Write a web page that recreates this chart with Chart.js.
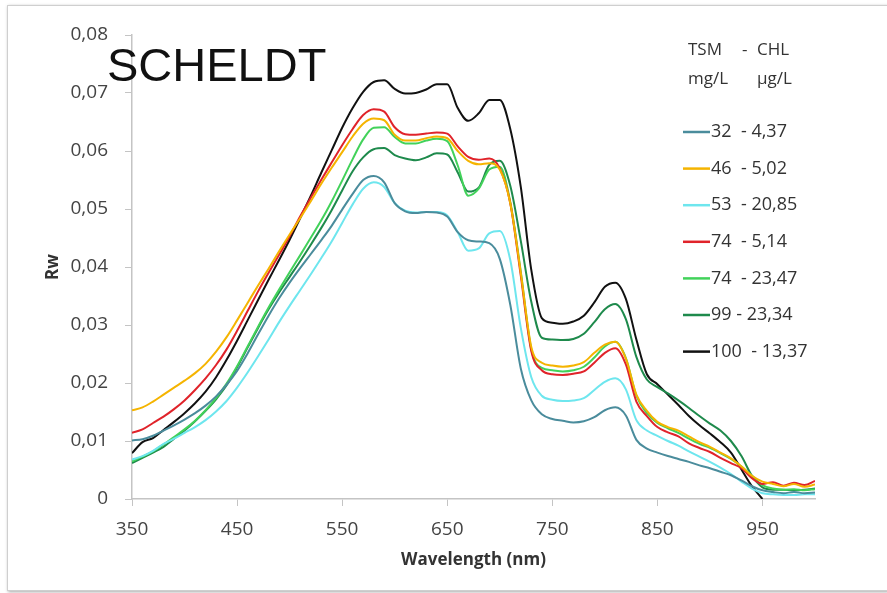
<!DOCTYPE html>
<html>
<head>
<meta charset="utf-8">
<script src="https://cdn.jsdelivr.net/npm/chart.js@4.4.1/dist/chart.umd.min.js"></script>
<style>
  html, body { margin: 0; padding: 0; background: #fff; }
  #wrap { position: relative; width: 887px; height: 593px; }
  #frame {
    position: absolute; left: 7px; top: 5px; width: 879px; height: 584px;
    border: 1px solid #cfcfcf; box-shadow: 1px 1px 3px rgba(0,0,0,0.35);
    pointer-events: none;
  }
</style>
</head>
<body>
<div id="wrap">
  <canvas id="rwChart" width="887" height="593"></canvas>
  <div id="frame"></div>
</div>
<script>
// wavelength grid (nm)
const wavelengths = [350, 360, 370, 380, 390, 400, 410, 420, 430, 440, 450, 460, 470, 480, 490, 500,
  510, 520, 530, 540, 550, 560, 570, 580, 590, 600, 610, 620, 630, 640, 650, 660, 670, 680, 690, 700,
  710, 720, 730, 740, 750, 760, 770, 780, 790, 800, 810, 820, 830, 840, 850, 860, 870, 880, 890, 900,
  910, 920, 930, 940, 950, 960, 970, 980, 990, 1000];

const xTicks = [350, 450, 550, 650, 750, 850, 950];

// TSM (mg/L) - CHL (µg/L) per sample
const sampleLabels = ['32  - 4,37', '46  - 5,02', '53  - 20,85', '74  - 5,14', '74  - 23,47', '99 - 23,34', '100  - 13,37'];

const rw32 = [.0101, .0103, .0109, .0118, .0127, .0137, .0148, .0161, .0177, .0197, .0221, .0251, .0284, .0316, .0346, .0373,
  .0398, .0422, .0446, .0471, .0499, .0526, .0550, .0557, .0546, .0510, .0496, .0493, .0495, .0494, .0487, .0460, .0446, .0444, .0441, .0414,
  .0335, .0225, .0170, .0146, .0138, .0135, .0132, .0134, .0141, .0153, .0158, .0144, .0102, .0087, .0080, .0074, .0069, .0064, .0058, .0053,
  .0047, .0041, .0032, .0022, .0015, .0012, .0010, .0012, .0010, .0011];

const rw46 = [.0153, .0158, .0168, .0180, .0192, .0204, .0217, .0233, .0254, .0279, .0308, .0338, .0368, .0397, .0427, .0456,
  .0484, .0513, .0543, .0571, .0598, .0625, .0647, .0656, .0653, .0628, .0618, .0618, .0622, .0625, .0622, .0600, .0583, .0577, .0579, .0568,
  .0510, .0390, .0262, .0235, .0230, .0228, .0230, .0236, .0252, .0266, .0271, .0242, .0180, .0152, .0133, .0124, .0118, .0108, .0098, .0090,
  .0080, .0070, .0056, .0040, .0030, .0026, .0022, .0026, .0021, .0025];

const rw53 = [.0068, .0074, .0083, .0095, .0104, .0114, .0124, .0136, .0151, .0169, .0192, .0218, .0246, .0275, .0305, .0333,
  .0360, .0387, .0415, .0444, .0476, .0508, .0535, .0546, .0538, .0510, .0497, .0494, .0495, .0495, .0489, .0460, .0428, .0432, .0458, .0462,
  .0412, .0295, .0210, .0178, .0171, .0169, .0170, .0174, .0188, .0202, .0208, .0189, .0136, .0118, .0109, .0100, .0092, .0082, .0073, .0064,
  .0054, .0043, .0030, .0018, .0010, .0008, .0007, .0007, .0008, .0008];

const rw74a = [.0114, .0120, .0131, .0142, .0155, .0170, .0188, .0208, .0231, .0258, .0290, .0324, .0358, .0390, .0421, .0453,
  .0487, .0519, .0550, .0580, .0610, .0638, .0662, .0672, .0668, .0641, .0629, .0628, .0630, .0632, .0630, .0608, .0590, .0585, .0587, .0570,
  .0510, .0385, .0255, .0222, .0215, .0214, .0216, .0220, .0235, .0252, .0260, .0232, .0168, .0143, .0124, .0115, .0108, .0096, .0088, .0081,
  .0071, .0062, .0053, .0036, .0026, .0029, .0023, .0028, .0024, .0031];

const rw74b = [.0065, .0073, .0082, .0094, .0107, .0120, .0135, .0153, .0174, .0199, .0229, .0263, .0297, .0330, .0361, .0391,
  .0420, .0450, .0480, .0513, .0549, .0586, .0620, .0640, .0641, .0624, .0613, .0613, .0618, .0621, .0617, .0575, .0523, .0535, .0568, .0573,
  .0512, .0392, .0258, .0226, .0222, .0220, .0222, .0228, .0244, .0263, .0271, .0243, .0178, .0148, .0131, .0122, .0114, .0104, .0095, .0088,
  .0079, .0069, .0056, .0040, .0024, .0018, .0016, .0017, .0015, .0017];

const rw99 = [.0062, .0071, .0080, .0090, .0104, .0118, .0134, .0152, .0172, .0196, .0227, .0261, .0295, .0327, .0356, .0383,
  .0410, .0438, .0467, .0498, .0532, .0565, .0589, .0603, .0605, .0593, .0587, .0584, .0589, .0596, .0594, .0563, .0530, .0537, .0576, .0583,
  .0540, .0445, .0340, .0278, .0275, .0274, .0276, .0285, .0305, .0327, .0336, .0310, .0245, .0206, .0193, .0182, .0170, .0157, .0143, .0130,
  .0118, .0100, .0074, .0040, .0020, .0016, .0016, .0015, .0016, .0018];

const rw100 = [.0079, .0098, .0105, .0119, .0133, .0148, .0165, .0185, .0210, .0240, .0273, .0308, .0343, .0378, .0412, .0447,
  .0484, .0522, .0562, .0601, .0640, .0674, .0702, .0719, .0722, .0707, .0699, .0700, .0706, .0715, .0715, .0674, .0652, .0665, .0688, .0688,
  .0638, .0538, .0395, .0312, .0304, .0302, .0306, .0316, .0339, .0366, .0373, .0345, .0275, .0215, .0198, .0180, .0162, .0143, .0127, .0113,
  .0098, .0080, .0051, .0022, .0000, null, null, null, null, null];

const series = [rw32, rw46, rw53, rw74a, rw74b, rw99, rw100];
const colors = ['#4a8c9c', '#f5b400', '#6ee6ee', '#e0232a', '#42d25a', '#1e8a4c', '#111111'];

const datasets = series.map((vals, i) => ({
    label: sampleLabels[i],
    data: wavelengths.map((w, j) => ({ x: w, y: vals[j] })),
    borderColor: colors[i],
    backgroundColor: colors[i],
    borderWidth: 2,
    pointRadius: 0,
    cubicInterpolationMode: 'monotone',
    spanGaps: false,
    fill: false
}));

const axisGray = '#c4c4c4';
const textGray = '#444';

// legend block on the right plus the SCHELDT caption
const sideLegend = {
    id: 'sideLegend',
    afterDraw(chart) {
        const ctx = chart.ctx;
        ctx.save();
        ctx.fillStyle = '#333';
        ctx.font = '17px "Open Sans"';
        ctx.textBaseline = 'middle';
        ctx.fillText('TSM', 688, 50);
        ctx.fillText('-', 742, 50);
        ctx.fillText('CHL', 757, 50);
        ctx.fillText('mg/L', 688, 79);
        ctx.fillText('µg/L', 757, 79);

        ctx.font = '18px "Open Sans"';
        chart.data.datasets.forEach((ds, i) => {
            const y = 132 + i * 36.6;
            ctx.strokeStyle = ds.borderColor;
            ctx.lineWidth = 2.5;
            ctx.beginPath();
            ctx.moveTo(683, y);
            ctx.lineTo(710, y);
            ctx.stroke();
            ctx.fillStyle = '#333';
            ctx.fillText(ds.label, 711, y);
        });

        ctx.fillStyle = '#111';
        ctx.font = '47px "Liberation Sans"';
        ctx.textBaseline = 'alphabetic';
        ctx.fillText('SCHELDT', 107, 81);
        ctx.restore();
    }
};

new Chart(document.getElementById('rwChart').getContext('2d'), {
    type: 'line',
    data: { datasets: datasets },
    options: {
        responsive: false,
        animation: false,
        devicePixelRatio: 1,
        layout: { padding: { left: 0, top: 35, right: 72, bottom: 0 } },
        plugins: {
            legend: { display: false },
            tooltip: { enabled: false }
        },
        scales: {
            x: {
                type: 'linear',
                min: 350,
                max: 1000,
                afterBuildTicks: s => { s.ticks = xTicks.map(v => ({ value: v })); },
                afterFit: s => { s.height = 94; },
                grid: { drawOnChartArea: false, drawTicks: true, tickLength: 7, color: axisGray },
                border: { display: true, color: axisGray, width: 1.5 },
                ticks: {
                    padding: 12,
                    color: textGray,
                    font: { family: 'Open Sans', size: 19 },
                    callback: v => String(v)
                },
                title: {
                    display: true,
                    text: 'Wavelength (nm)',
                    color: '#333',
                    font: { family: 'Open Sans', size: 17, weight: 'bold' },
                    padding: { top: 0, bottom: 23 }
                }
            },
            y: {
                min: 0,
                max: 0.08,
                afterFit: s => { s.width = 132; },
                grid: { drawOnChartArea: false, drawTicks: true, tickLength: 7, color: axisGray },
                border: { display: true, color: axisGray, width: 1.5 },
                ticks: {
                    stepSize: 0.01,
                    padding: 17,
                    color: textGray,
                    font: { family: 'Open Sans', size: 19 },
                    callback: v => Math.abs(v) < 1e-9 ? '0' : v.toFixed(2).replace('.', ',')
                },
                title: {
                    display: true,
                    text: 'Rw',
                    color: '#333',
                    font: { family: 'Open Sans', size: 17, weight: 'bold' },
                    padding: { top: 43, bottom: 0 }
                }
            }
        }
    },
    plugins: [sideLegend]
});
</script>
</body>
</html>
